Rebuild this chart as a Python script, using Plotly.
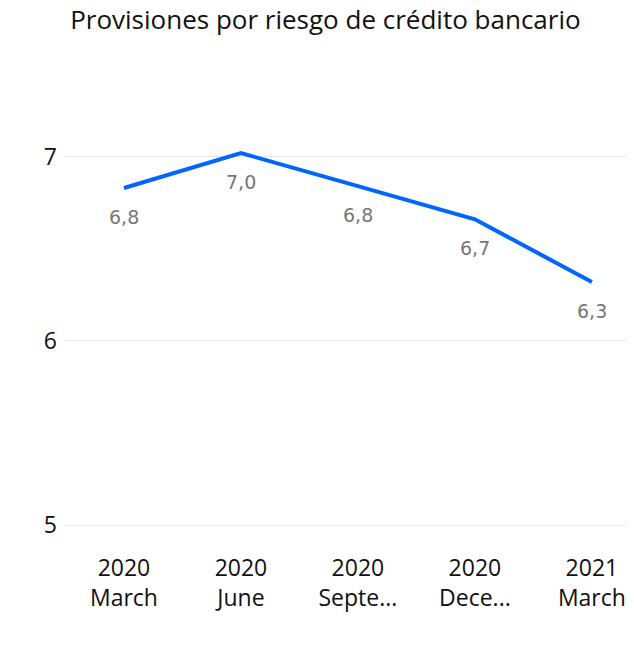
import plotly.graph_objects as go

years = ["2020", "2020", "2020", "2020", "2021"]
months = ["March", "June", "Septe...", "Dece...", "March"]
values = [6.83, 7.02, 6.84, 6.66, 6.32]
labels = ["6,8", "7,0", "6,8", "6,7", "6,3"]
y_ticks = [5, 6, 7]

xs = list(range(len(values)))
ticktext = [f"{y}<br>{m}" for y, m in zip(years, months)]

fig = go.Figure()
fig.add_trace(go.Scatter(
    x=xs, y=values, mode="lines",
    line=dict(color="#0066FF", width=4),
    hoverinfo="skip", showlegend=False,
))

for x, v, t in zip(xs, values, labels):
    fig.add_annotation(
        x=x, y=v, text=t, showarrow=False, yshift=-29,
        xanchor="center", yanchor="middle",
        font=dict(family="DejaVu Sans", size=19, color="#777777"),
    )

fig.update_layout(
    width=626, height=650,
    margin=dict(l=57, r=0, t=75, b=131),
    paper_bgcolor="white", plot_bgcolor="white",
    title=dict(
        text="Provisiones por riesgo de crédito bancario",
        x=0.507, xanchor="center", y=1 - 3 / 650, yanchor="top", yref="container",
        font=dict(family="Open Sans", size=26, color="#111111"),
    ),
    xaxis=dict(
        range=[-0.504, 4.36], tickvals=xs, ticktext=ticktext,
        showgrid=False, zeroline=False, showline=False, ticks="",
        tickfont=dict(family="Open Sans", size=23, color="#111111"),
        ticklabelstandoff=25,
    ),
    yaxis=dict(
        range=[4.99, 7.4], tickvals=y_ticks, ticktext=[str(t) for t in y_ticks],
        showgrid=True, gridcolor="#e8e8e8", gridwidth=1,
        zeroline=False, showline=False, ticks="",
        tickfont=dict(family="Open Sans", size=23, color="#111111"),
        ticklabelstandoff=7,
    ),
)

fig.write_html("out.html")
